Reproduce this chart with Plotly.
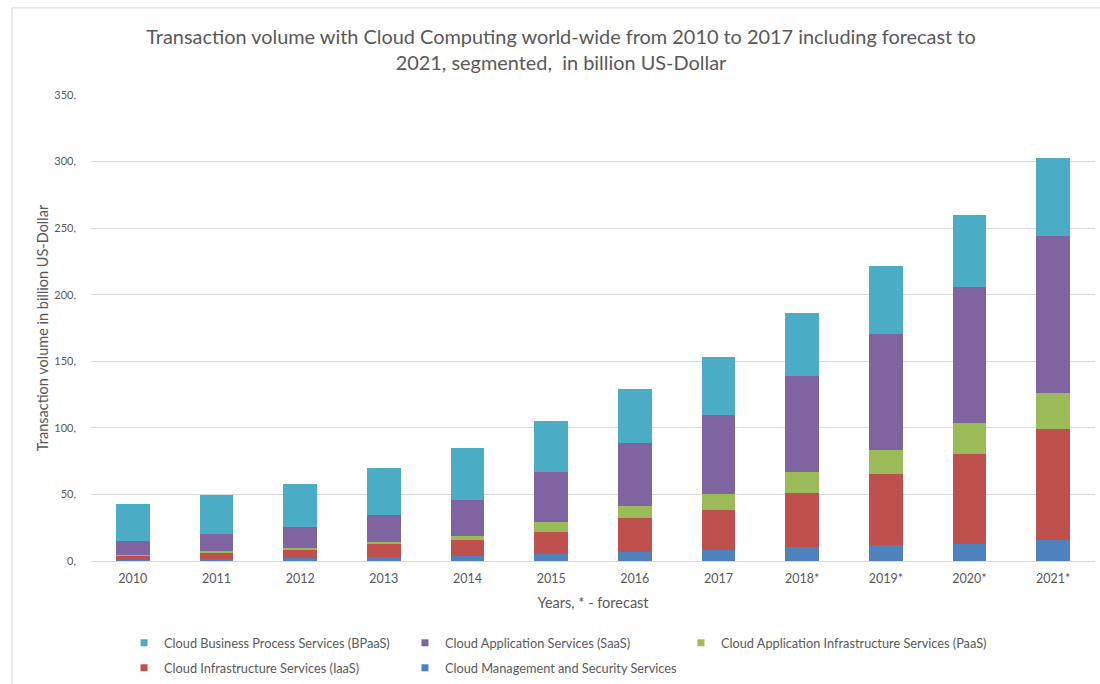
import plotly.graph_objects as go

years = ["2010", "2011", "2012", "2013", "2014", "2015", "2016", "2017", "2018*", "2019*", "2020*", "2021*"]
mgmt = [1, 1.5, 2, 3, 3.5, 5, 6.5, 8, 10.5, 12, 13, 16]
iaas = [3, 5, 7, 9.5, 12, 17, 25.5, 30, 40.5, 53, 67.5, 83]
paas = [0.5, 1, 1, 1.5, 3.5, 7, 9, 12.5, 15.5, 18.5, 23, 27.5]
saas = [10.5, 12.5, 15.5, 20.5, 27, 38, 48, 59.5, 72.5, 87, 102, 117.5]
bpaas = [27.5, 29.5, 32, 35, 39, 38.5, 40, 43, 47, 51, 54.5, 59]

tick_vals = [0, 50, 100, 150, 200, 250, 300, 350]
tick_text = ["0,", "50,", "100,", "150,", "200,", "250,", "300,", "350,"]

names = {
    "mgmt": "Cloud Management and Security Services",
    "iaas": "Cloud Infrastructure Services (IaaS)",
    "paas": "Cloud Application Infrastructure Services (PaaS)",
    "saas": "Cloud Application Services (SaaS)",
    "bpaas": "Cloud Business Process Services (BPaaS)",
}
colors = {"mgmt": "#4F81BD", "iaas": "#C0504D", "paas": "#9BBB59", "saas": "#8064A2", "bpaas": "#4BACC6"}
values = {"mgmt": mgmt, "iaas": iaas, "paas": paas, "saas": saas, "bpaas": bpaas}

FONT = "Lato"
GRAY = "#595959"

fig = go.Figure()
for key in ["mgmt", "iaas", "paas", "saas", "bpaas"]:
    fig.add_trace(go.Bar(x=years, y=values[key], name=names[key],
                         marker=dict(color=colors[key], line=dict(width=0)), showlegend=False))

# legend entries: one legend per entry, laid out in two rows like the reference
legend_slots = [("bpaas", "legend", 0.0329, -0.176),
                ("saas", "legend2", 0.3127, -0.176),
                ("paas", "legend3", 0.5876, -0.176),
                ("iaas", "legend4", 0.0329, -0.2296),
                ("mgmt", "legend5", 0.3127, -0.2296)]
for key, lg, _, _ in legend_slots:
    fig.add_trace(go.Scatter(x=[None], y=[None], mode="markers", name=names[key],
                             marker=dict(symbol="square", size=7, color=colors[key]),
                             legend=lg, showlegend=True))

leg_layout = {}
for key, lg, lx, ly in legend_slots:
    leg_layout[lg] = dict(orientation="h", xanchor="left", yanchor="middle", x=lx, y=ly,
                          font=dict(family=FONT, size=12.75, color=GRAY), itemwidth=30,
                          bgcolor="rgba(0,0,0,0)")

fig.update_layout(
    width=1100, height=684,
    barmode="stack", bargap=0.6,
    paper_bgcolor="white", plot_bgcolor="white",
    margin=dict(l=91, r=5, t=95, b=123, autoexpand=False),
    font=dict(family=FONT, color=GRAY, size=12),
    title=dict(
        text="Transaction volume with Cloud Computing world-wide from 2010 to 2017 including forecast to<br>2021, segmented,  in billion US-Dollar",
        x=0.51, xref="container", xanchor="center", y=0.936, yanchor="top",
        font=dict(family=FONT, size=19.9, color=GRAY),
    ),
    xaxis=dict(
        title=dict(text="Years, * - forecast", font=dict(size=14.5, color=GRAY), standoff=12),
        showline=True, linecolor="#d9d9d9", linewidth=1,
        tickfont=dict(size=12.5, color=GRAY), ticks="", ticklabelstandoff=6,
    ),
    yaxis=dict(
        title=dict(text="Transaction volume in billion US-Dollar", font=dict(size=14.5, color=GRAY), standoff=2),
        range=[0, 350], tickmode="array", tickvals=tick_vals, ticktext=tick_text,
        gridcolor="#d9d9d9", gridwidth=1, zeroline=False,
        tickfont=dict(size=11, color=GRAY), ticks="", ticklabelstandoff=14,
    ),
    shapes=[
        dict(type="line", xref="paper", yref="paper", x0=-0.0787, x1=-0.0787, y0=-0.3, y1=1.187,
             line=dict(color="#d9d9d9", width=1)),
        dict(type="line", xref="paper", yref="paper", x0=-0.0787, x1=1.01, y0=1.187, y1=1.187,
             line=dict(color="#d9d9d9", width=1)),
    ],
    **leg_layout,
)

fig.write_html("out.html")
